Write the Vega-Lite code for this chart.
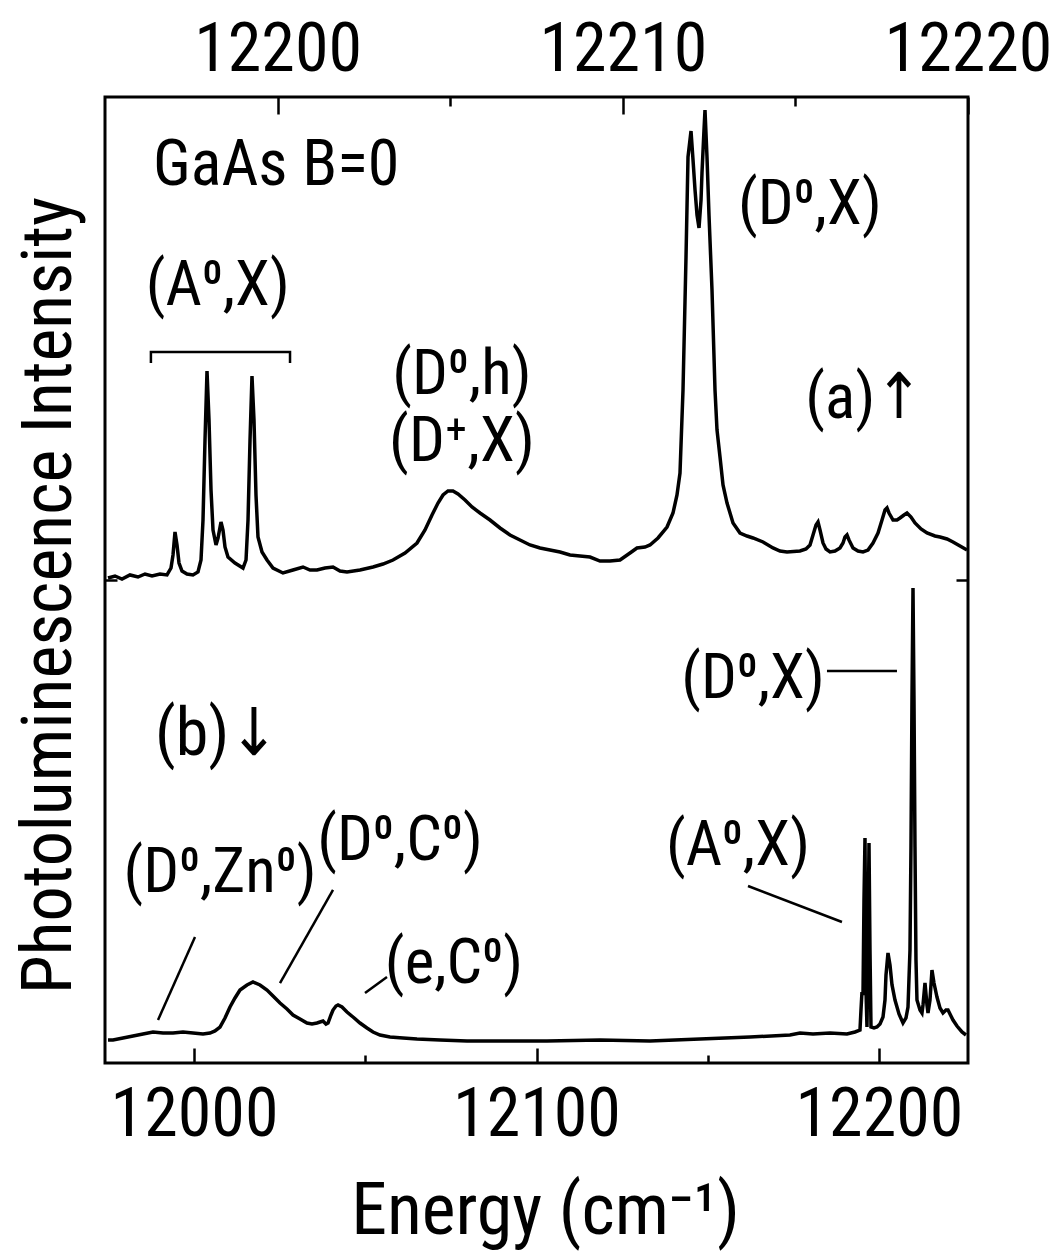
{
  "$schema": "https://vega.github.io/schema/vega-lite/v6.json",
  "width": 863,
  "height": 966,
  "autosize": {"type": "none"},
  "padding": {"left": 105, "top": 97, "right": 92, "bottom": 194},
  "background": "white",
  "config": {
    "font": "Roboto Condensed, DejaVu Sans Condensed, Liberation Sans Narrow, Liberation Sans, sans-serif",
    "view": {"stroke": "black", "strokeWidth": 3},
    "axis": {"grid": false, "domain": false, "labelColor": "black", "titleColor": "black", "tickColor": "black", "tickWidth": 2.5, "labelFontWeight": "normal", "titleFontWeight": "normal"}
  },
  "datasets": {
    "a": [
      {"E":12195.087,"I":1.0041},{"E":12195.290,"I":1.0083},{"E":12195.492,"I":1.0021},{"E":12195.724,"I":1.0104},{"E":12195.956,"I":1.0062},{"E":12196.159,"I":1.0124},{"E":12196.362,"I":1.0083},{"E":12196.593,"I":1.0124},{"E":12196.796,"I":1.0104},{"E":12196.912,"I":1.0248},{"E":12196.970,"I":1.0518},{"E":12197.028,"I":1.0994},{"E":12197.086,"I":1.0725},{"E":12197.144,"I":1.0352},{"E":12197.231,"I":1.0186},{"E":12197.375,"I":1.0124},{"E":12197.549,"I":1.0104},{"E":12197.694,"I":1.0166},{"E":12197.781,"I":1.0414},{"E":12197.839,"I":1.1242},{"E":12197.897,"I":1.2899},{"E":12197.955,"I":1.4327},{"E":12198.013,"I":1.3313},{"E":12198.071,"I":1.1863},{"E":12198.129,"I":1.1035},{"E":12198.216,"I":1.0725},{"E":12198.274,"I":1.0870},{"E":12198.360,"I":1.1201},{"E":12198.418,"I":1.1035},{"E":12198.476,"I":1.0683},{"E":12198.563,"I":1.0476},{"E":12198.766,"I":1.0352},{"E":12198.998,"I":1.0248},{"E":12199.085,"I":1.0414},{"E":12199.143,"I":1.1242},{"E":12199.201,"I":1.2899},{"E":12199.258,"I":1.4224},{"E":12199.316,"I":1.3313},{"E":12199.374,"I":1.1760},{"E":12199.432,"I":1.0890},{"E":12199.548,"I":1.0580},{"E":12199.693,"I":1.0414},{"E":12199.867,"I":1.0248},{"E":12200.156,"I":1.0145},{"E":12200.446,"I":1.0207},{"E":12200.736,"I":1.0269},{"E":12200.939,"I":1.0207},{"E":12201.141,"I":1.0207},{"E":12201.373,"I":1.0248},{"E":12201.605,"I":1.0269},{"E":12201.808,"I":1.0186},{"E":12202.011,"I":1.0166},{"E":12202.387,"I":1.0207},{"E":12202.764,"I":1.0269},{"E":12203.053,"I":1.0331},{"E":12203.343,"I":1.0414},{"E":12203.691,"I":1.0559},{"E":12204.038,"I":1.0766},{"E":12204.270,"I":1.1035},{"E":12204.473,"I":1.1346},{"E":12204.647,"I":1.1594},{"E":12204.792,"I":1.1760},{"E":12204.936,"I":1.1843},{"E":12205.081,"I":1.1843},{"E":12205.226,"I":1.1781},{"E":12205.429,"I":1.1656},{"E":12205.632,"I":1.1511},{"E":12205.863,"I":1.1387},{"E":12206.153,"I":1.1242},{"E":12206.443,"I":1.1077},{"E":12206.732,"I":1.0932},{"E":12207.022,"I":1.0828},{"E":12207.312,"I":1.0725},{"E":12207.602,"I":1.0663},{"E":12207.891,"I":1.0621},{"E":12208.181,"I":1.0580},{"E":12208.471,"I":1.0518},{"E":12208.760,"I":1.0497},{"E":12209.050,"I":1.0476},{"E":12209.340,"I":1.0393},{"E":12209.629,"I":1.0393},{"E":12209.919,"I":1.0414},{"E":12210.209,"I":1.0559},{"E":12210.411,"I":1.0663},{"E":12210.643,"I":1.0683},{"E":12210.788,"I":1.0725},{"E":12211.020,"I":1.0870},{"E":12211.281,"I":1.1097},{"E":12211.454,"I":1.1387},{"E":12211.570,"I":1.1760},{"E":12211.657,"I":1.2215},{"E":12211.744,"I":1.3934},{"E":12211.831,"I":1.6687},{"E":12211.889,"I":1.8758},{"E":12211.976,"I":1.9296},{"E":12212.034,"I":1.8696},{"E":12212.092,"I":1.8075},{"E":12212.150,"I":1.7557},{"E":12212.208,"I":1.7288},{"E":12212.266,"I":1.7867},{"E":12212.294,"I":1.8427},{"E":12212.352,"I":1.9317},{"E":12212.381,"I":1.9731},{"E":12212.439,"I":1.8758},{"E":12212.497,"I":1.7557},{"E":12212.584,"I":1.6004},{"E":12212.671,"I":1.3934},{"E":12212.729,"I":1.3106},{"E":12212.816,"I":1.2547},{"E":12212.903,"I":1.1967},{"E":12213.019,"I":1.1594},{"E":12213.193,"I":1.1180},{"E":12213.395,"I":1.0973},{"E":12213.598,"I":1.0911},{"E":12213.772,"I":1.0870},{"E":12214.062,"I":1.0787},{"E":12214.351,"I":1.0663},{"E":12214.554,"I":1.0600},{"E":12214.757,"I":1.0580},{"E":12215.133,"I":1.0600},{"E":12215.307,"I":1.0642},{"E":12215.423,"I":1.0725},{"E":12215.510,"I":1.0932},{"E":12215.597,"I":1.1139},{"E":12215.655,"I":1.1201},{"E":12215.713,"I":1.1035},{"E":12215.800,"I":1.0766},{"E":12215.887,"I":1.0642},{"E":12216.003,"I":1.0580},{"E":12216.147,"I":1.0600},{"E":12216.292,"I":1.0663},{"E":12216.379,"I":1.0766},{"E":12216.437,"I":1.0890},{"E":12216.495,"I":1.0932},{"E":12216.553,"I":1.0828},{"E":12216.669,"I":1.0663},{"E":12216.814,"I":1.0600},{"E":12216.958,"I":1.0580},{"E":12217.103,"I":1.0621},{"E":12217.248,"I":1.0766},{"E":12217.393,"I":1.0973},{"E":12217.509,"I":1.1242},{"E":12217.596,"I":1.1449},{"E":12217.654,"I":1.1491},{"E":12217.712,"I":1.1387},{"E":12217.828,"I":1.1242},{"E":12217.943,"I":1.1242},{"E":12218.030,"I":1.1284},{"E":12218.146,"I":1.1346},{"E":12218.233,"I":1.1387},{"E":12218.349,"I":1.1304},{"E":12218.465,"I":1.1180},{"E":12218.639,"I":1.1056},{"E":12218.813,"I":1.0973},{"E":12219.044,"I":1.0911},{"E":12219.189,"I":1.0890},{"E":12219.392,"I":1.0849},{"E":12219.566,"I":1.0787},{"E":12219.769,"I":1.0704},{"E":12219.971,"I":1.0621}
    ],
    "b": [
      {"E":11974.88,"I":0.0476},{"E":11976.34,"I":0.0476},{"E":11979.26,"I":0.0518},{"E":11982.18,"I":0.0559},{"E":11985.10,"I":0.0600},{"E":11988.02,"I":0.0642},{"E":11990.94,"I":0.0621},{"E":11993.86,"I":0.0621},{"E":11996.78,"I":0.0642},{"E":11999.70,"I":0.0621},{"E":12002.62,"I":0.0600},{"E":12004.66,"I":0.0621},{"E":12006.12,"I":0.0663},{"E":12007.58,"I":0.0745},{"E":12009.04,"I":0.0932},{"E":12010.50,"I":0.1159},{"E":12011.96,"I":0.1346},{"E":12013.42,"I":0.1511},{"E":12015.46,"I":0.1615},{"E":12017.22,"I":0.1677},{"E":12019.26,"I":0.1615},{"E":12021.30,"I":0.1511},{"E":12023.06,"I":0.1387},{"E":12025.10,"I":0.1242},{"E":12027.14,"I":0.1118},{"E":12028.90,"I":0.0994},{"E":12030.94,"I":0.0911},{"E":12032.98,"I":0.0828},{"E":12034.44,"I":0.0807},{"E":12035.90,"I":0.0828},{"E":12036.78,"I":0.0849},{"E":12037.66,"I":0.0870},{"E":12038.53,"I":0.0807},{"E":12039.12,"I":0.0828},{"E":12039.99,"I":0.0994},{"E":12040.58,"I":0.1097},{"E":12041.45,"I":0.1180},{"E":12042.04,"I":0.1201},{"E":12043.20,"I":0.1159},{"E":12044.66,"I":0.1056},{"E":12046.42,"I":0.0952},{"E":12048.46,"I":0.0828},{"E":12050.50,"I":0.0725},{"E":12052.26,"I":0.0642},{"E":12054.30,"I":0.0580},{"E":12057.22,"I":0.0538},{"E":12061.02,"I":0.0518},{"E":12065.10,"I":0.0497},{"E":12071.82,"I":0.0476},{"E":12079.70,"I":0.0455},{"E":12089.34,"I":0.0455},{"E":12103.06,"I":0.0455},{"E":12118.54,"I":0.0476},{"E":12133.14,"I":0.0455},{"E":12147.74,"I":0.0497},{"E":12162.34,"I":0.0538},{"E":12174.02,"I":0.0580},{"E":12176.94,"I":0.0621},{"E":12180.74,"I":0.0600},{"E":12185.70,"I":0.0621},{"E":12190.66,"I":0.0600},{"E":12193.00,"I":0.0642},{"E":12194.46,"I":0.0683},{"E":12194.75,"I":0.1097},{"E":12195.04,"I":0.1470},{"E":12195.34,"I":0.1408},{"E":12195.63,"I":0.3375},{"E":12195.92,"I":0.4658},{"E":12196.21,"I":0.1511},{"E":12196.50,"I":0.0745},{"E":12196.80,"I":0.2340},{"E":12197.09,"I":0.4555},{"E":12197.38,"I":0.2340},{"E":12197.67,"I":0.0745},{"E":12198.55,"I":0.0725},{"E":12199.42,"I":0.0745},{"E":12200.30,"I":0.0807},{"E":12201.18,"I":0.0952},{"E":12201.76,"I":0.1304},{"E":12202.05,"I":0.1822},{"E":12202.64,"I":0.2277},{"E":12203.22,"I":0.2029},{"E":12203.80,"I":0.1622},{"E":12204.68,"I":0.1304},{"E":12205.85,"I":0.1014},{"E":12207.02,"I":0.0828},{"E":12207.89,"I":0.0932},{"E":12208.48,"I":0.1159},{"E":12209.06,"I":0.2340},{"E":12209.35,"I":0.4472},{"E":12209.64,"I":0.7516},{"E":12209.94,"I":0.9834},{"E":12210.23,"I":0.7516},{"E":12210.52,"I":0.4472},{"E":12210.81,"I":0.2133},{"E":12211.10,"I":0.1304},{"E":12211.98,"I":0.1097},{"E":12212.56,"I":0.1035},{"E":12212.86,"I":0.1201},{"E":12213.44,"I":0.1656},{"E":12214.02,"I":0.1201},{"E":12214.32,"I":0.1035},{"E":12214.90,"I":0.1304},{"E":12215.48,"I":0.1925},{"E":12216.07,"I":0.1656},{"E":12216.94,"I":0.1366},{"E":12217.82,"I":0.1139},{"E":12218.70,"I":0.1035},{"E":12219.57,"I":0.1097},{"E":12220.16,"I":0.1097},{"E":12221.03,"I":0.0973},{"E":12221.62,"I":0.0890},{"E":12222.78,"I":0.0766},{"E":12224.24,"I":0.0642},{"E":12225.41,"I":0.0580}
    ],
    "bracket": [
      {"o":1,"E":12196.33,"I":1.4493},{"o":2,"E":12196.33,"I":1.4720},{"o":3,"E":12200.36,"I":1.4720},{"o":4,"E":12200.36,"I":1.4493}
    ],
    "topLeftText": [
      {"E":12196.39,"I":1.8178,"t":"GaAs  B=0"}
    ],
    "topText": [
      {"E":12198.27,"I":1.5694,"t":"(A⁰,X)"},
      {"E":12205.34,"I":1.3851,"t":"(D⁰,h)"},
      {"E":12205.34,"I":1.2464,"t":"(D⁺,X)"},
      {"E":12215.42,"I":1.7371,"t":"(D⁰,X)"},
      {"E":12216.99,"I":1.3354,"t":"(a)↑"}
    ],
    "botLeftText": [
      {"E":11988.6,"I":0.6377,"t":"(b)↓"}
    ],
    "botText": [
      {"E":12163.22,"I":0.7557,"t":"(D⁰,X)"},
      {"E":12158.84,"I":0.4099,"t":"(A⁰,X)"},
      {"E":12007.58,"I":0.3540,"t":"(D⁰,Zn⁰)"},
      {"E":12060.14,"I":0.4203,"t":"(D⁰,C⁰)"},
      {"E":12075.91,"I":0.1656,"t":"(e,C⁰)"}
    ],
    "leaders": [
      {"E":12184.82,"E2":12205.26,"I":0.8116,"I2":0.8116},
      {"E":12161.76,"E2":12189.20,"I":0.3665,"I2":0.2919},
      {"E":12000.28,"E2":11989.48,"I":0.2609,"I2":0.0890},
      {"E":12040.58,"E2":12025.10,"I":0.3582,"I2":0.1656},
      {"E":12056.34,"E2":12049.92,"I":0.1781,"I2":0.1449}
    ]
  },
  "layer": [
    {
      "layer": [
        {
          "data": {"name": "a"},
          "mark": {"type": "line", "color": "black", "strokeWidth": 3.5, "interpolate": "linear"},
          "encoding": {
            "x": {"field": "E", "type": "quantitative", "scale": {"domain": [12195, 12220], "nice": false, "zero": false},
              "axis": {"orient": "top", "title": null, "values": [12200, 12205, 12210, 12215, 12220], "format": "d",
                "labelExpr": "datum.value % 10 === 0 ? datum.label : ''",
                "tickSize": {"condition": {"test": "datum.value % 10 === 0", "value": -17}, "value": -9},
                "labelFontSize": 68, "labelBaseline": "alphabetic", "labelPadding": 44, "labelFlush": false, "labelOverlap": false}},
            "y": {"field": "I", "type": "quantitative", "scale": {"domain": [0, 2], "nice": false, "zero": false},
              "axis": {"orient": "left", "title": "Photoluminescence Intensity", "values": [1], "labels": false, "tickSize": -12,
                "titleFontSize": 70, "titleAngle": -90, "titleX": -35, "titleY": 498, "titleAlign": "center", "titleBaseline": "alphabetic"}}
          }
        },
        {
          "data": {"name": "bracket"},
          "mark": {"type": "line", "color": "black", "strokeWidth": 2.5},
          "encoding": {
            "x": {"field": "E", "type": "quantitative"},
            "y": {"field": "I", "type": "quantitative"},
            "order": {"field": "o"}
          }
        },
        {
          "data": {"name": "topLeftText"},
          "mark": {"type": "text", "fontSize": 64, "align": "left", "baseline": "alphabetic", "color": "black"},
          "encoding": {
            "x": {"field": "E", "type": "quantitative"},
            "y": {"field": "I", "type": "quantitative"},
            "text": {"field": "t"}
          }
        },
        {
          "data": {"name": "topText"},
          "mark": {"type": "text", "fontSize": 63, "align": "center", "baseline": "alphabetic", "color": "black"},
          "encoding": {
            "x": {"field": "E", "type": "quantitative"},
            "y": {"field": "I", "type": "quantitative"},
            "text": {"field": "t"}
          }
        }
      ]
    },
    {
      "layer": [
        {
          "data": {"name": "b"},
          "mark": {"type": "line", "color": "black", "strokeWidth": 3.5, "interpolate": "linear"},
          "encoding": {
            "x": {"field": "E", "type": "quantitative", "scale": {"domain": [11974, 12226], "nice": false, "zero": false},
              "axis": {"orient": "bottom", "title": "Energy (cm⁻¹)", "values": [12000, 12050, 12100, 12150, 12200], "format": "d",
                "labelExpr": "datum.value % 100 === 0 ? datum.label : ''",
                "tickSize": {"condition": {"test": "datum.value % 100 === 0", "value": -15}, "value": -8},
                "labelFontSize": 68, "labelBaseline": "alphabetic", "labelPadding": 87, "labelFlush": false, "labelOverlap": false,
                "titleFontSize": 72, "titleX": 440, "titleY": 170, "titleAlign": "center", "titleBaseline": "alphabetic"}},
            "y": {"field": "I", "type": "quantitative", "scale": {"domain": [0, 2], "nice": false, "zero": false},
              "axis": {"orient": "right", "title": null, "values": [1], "labels": false, "tickSize": -12}}
          }
        },
        {
          "data": {"name": "leaders"},
          "mark": {"type": "rule", "color": "black", "strokeWidth": 2.5},
          "encoding": {
            "x": {"field": "E", "type": "quantitative"},
            "x2": {"field": "E2"},
            "y": {"field": "I", "type": "quantitative"},
            "y2": {"field": "I2"}
          }
        },
        {
          "data": {"name": "botLeftText"},
          "mark": {"type": "text", "fontSize": 66, "align": "left", "baseline": "alphabetic", "color": "black"},
          "encoding": {
            "x": {"field": "E", "type": "quantitative"},
            "y": {"field": "I", "type": "quantitative"},
            "text": {"field": "t"}
          }
        },
        {
          "data": {"name": "botText"},
          "mark": {"type": "text", "fontSize": 63, "align": "center", "baseline": "alphabetic", "color": "black"},
          "encoding": {
            "x": {"field": "E", "type": "quantitative"},
            "y": {"field": "I", "type": "quantitative"},
            "text": {"field": "t"}
          }
        }
      ]
    }
  ],
  "resolve": {"scale": {"x": "independent"}, "axis": {"x": "independent", "y": "independent"}}
}
